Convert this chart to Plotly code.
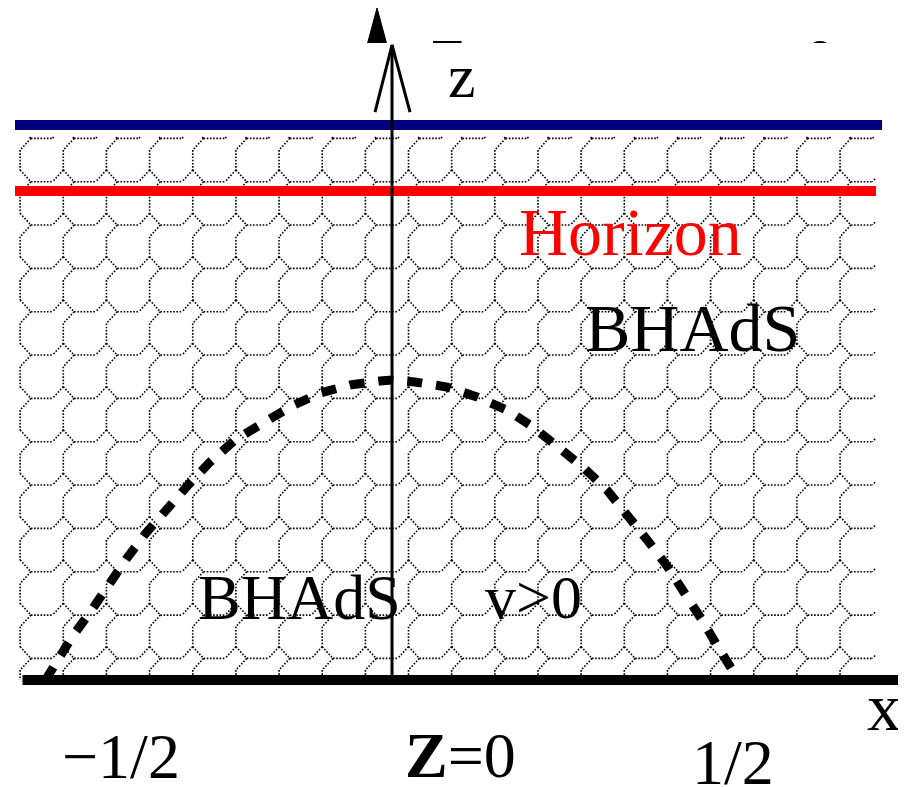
import plotly.graph_objects as go

# ---------------- data (in diagram units: x = -1/2 .. 1/2, z upward) ----------------
curve_x = [-0.5, -0.4863, -0.4618, -0.4343, -0.4113, -0.3824, -0.3550, -0.3247, -0.2929,
           -0.2626, -0.2266, -0.1861, -0.1443, -0.1039, -0.0606, -0.0173, 0.0,
           0.0332, 0.0794, 0.1227, 0.1659, 0.2035, 0.2395, 0.2771, 0.3102, 0.3405,
           0.3694, 0.3968, 0.4228, 0.4473, 0.4704, 0.4921, 0.5]
curve_z = [0.0, 0.0231, 0.0620, 0.0996, 0.1356, 0.1760, 0.2121, 0.2482, 0.2828,
           0.3146, 0.3463, 0.3709, 0.3954, 0.4141, 0.4257, 0.4315, 0.4329,
           0.4300, 0.4228, 0.4084, 0.3896, 0.3651, 0.3362, 0.3059, 0.2742, 0.2381,
           0.2006, 0.1645, 0.1270, 0.0866, 0.0476, 0.0115, 0.0]

boundary_z = 0.8009      # blue line
horizon_z = 0.7056       # red line (horizon)
tick_labels = ["\u22121/2", "<b>Z</b>=0", "1/2"]
tick_x = [-0.3911, 0.0981, 0.4921]
tick_z = [-0.1097, -0.1082, -0.1183]

region_labels = ["Horizon", "BHAdS", "BHAdS", "v>0"]
region_x = [0.3434, 0.4329, -0.1328, 0.2035]
region_z = [0.6465, 0.5079, 0.1198, 0.1198]
region_colors = ["#ff0000", "black", "black", "black"]
region_sizes = [68, 68, 64, 62]

top_text = "Z = const,  t > 0"

# ---------------- layout geometry ----------------
# the page body has an 8px margin; ranges are chosen so the diagram lands in place
XR = [-0.5541, 0.7532]
ZR = [-0.1659, 0.9697]
SERIF = "Liberation Serif"

# hexagon-like background texture parameters
W = 0.06227
H = 0.06253
A = W / 4
B = 0.01688
X0 = -0.5366
Z0 = 0.7359
CLIP = (-0.5368, 0.6970, 0.0, 0.7835)


def clip_seg(p, q, box):
    x1, y1 = p
    x2, y2 = q
    xmin, xmax, ymin, ymax = box
    dx, dy = x2 - x1, y2 - y1
    t0, t1 = 0.0, 1.0
    for pp, qq in ((-dx, x1 - xmin), (dx, xmax - x1), (-dy, y1 - ymin), (dy, ymax - y1)):
        if abs(pp) < 1e-12:
            if qq < 0:
                return None
        else:
            r = qq / pp
            if pp < 0:
                if r > t1:
                    return None
                t0 = max(t0, r)
            else:
                if r < t0:
                    return None
                t1 = min(t1, r)
    if t1 - t0 < 1e-9:
        return None
    return (x1 + t0 * dx, y1 + t0 * dy), (x1 + t1 * dx, y1 + t1 * dy)


hx, hz = [], []
for j in range(-1, 13):
    for k in range(-1, 21):
        px = X0 + k * W
        pz = Z0 - j * H
        P = (px, pz)
        Q = (px + A, pz - B)
        segs = [
            (P, (px - A, pz - B)),
            (P, Q),
            (Q, (px + 3 * A, pz - B)),
            (Q, (px, pz - 2 * B)),
            ((px, pz - 2 * B), (px, pz - H)),
        ]
        for s0, s1 in segs:
            c = clip_seg(s0, s1, CLIP)
            if c:
                hx += [c[0][0], c[1][0], None]
                hz += [c[0][1], c[1][1], None]

fig = go.Figure()

# texture
fig.add_trace(go.Scatter(x=hx, y=hz, mode="lines",
                         line=dict(color="black", width=1.6, dash="1.6px,1.6px")))

# partially hidden top text + filled arrow head of the cut-off figure above
fig.add_trace(go.Scatter(x=[0.3463], y=[0.8846], mode="text", text=[top_text],
                         textfont=dict(family=SERIF, size=64, color="black"),
                         textposition="middle center"))
fig.add_trace(go.Scatter(x=[-0.0216, -0.0014, -0.0418, -0.0216],
                         y=[0.9697, 0.8947, 0.8947, 0.9697],
                         mode="lines", fill="toself", fillcolor="black",
                         line=dict(color="black", width=1)))
# white cover (the picture is cut there)
fig.add_trace(go.Scatter(x=[-0.0534, 0.76, 0.76, -0.0534, -0.0534],
                         y=[0.9192, 0.9192, 0.8124, 0.8124, 0.9192],
                         mode="lines", fill="toself", fillcolor="white",
                         line=dict(color="white", width=0)))

# boundary and horizon
fig.add_trace(go.Scatter(x=[-0.5440, 0.7071], y=[boundary_z, boundary_z], mode="lines",
                         line=dict(color="#00007f", width=10)))
fig.add_trace(go.Scatter(x=[-0.5440, 0.6984], y=[horizon_z, horizon_z], mode="lines",
                         line=dict(color="#ff0000", width=10)))

# axes
fig.add_trace(go.Scatter(x=[-0.5332, 0.76], y=[0, 0], mode="lines",
                         line=dict(color="black", width=10)))
fig.add_trace(go.Scatter(x=[0, 0], y=[0, 0.9163], mode="lines",
                         line=dict(color="black", width=3)))
fig.add_trace(go.Scatter(x=[-0.0245, 0, 0.0260], y=[0.8196, 0.9163, 0.8196], mode="lines",
                         line=dict(color="black", width=3)))

# dashed curve
fig.add_trace(go.Scatter(x=curve_x, y=curve_z, mode="lines",
                         line=dict(color="black", width=9, dash="15px,14px")))

# labels
ann = []
for t, x, z, c, s in zip(region_labels, region_x, region_z, region_colors, region_sizes):
    ann.append(dict(x=x, y=z, text=t, showarrow=False, xanchor="center", yanchor="middle",
                    font=dict(family=SERIF, size=s, color=c)))
for t, x, z in zip(tick_labels, tick_x, tick_z):
    ann.append(dict(x=x, y=z, text=t, showarrow=False, xanchor="center", yanchor="middle",
                    font=dict(family=SERIF, size=64, color="black")))
ann.append(dict(x=0.1010, y=0.8716, text="z", showarrow=False, xanchor="center", yanchor="middle",
                font=dict(family=SERIF, size=62, color="black")))
ann.append(dict(x=0.7100, y=-0.0390, text="x", showarrow=False, xanchor="center", yanchor="middle",
                font=dict(family=SERIF, size=68, color="black")))

fig.update_layout(
    width=906, height=787,
    margin=dict(l=0, r=0, t=0, b=0, pad=0),
    paper_bgcolor="white", plot_bgcolor="white",
    showlegend=False, hovermode=False,
    annotations=ann,
    xaxis=dict(range=XR, visible=False, showgrid=False, zeroline=False, fixedrange=True),
    yaxis=dict(range=ZR, visible=False, showgrid=False, zeroline=False, fixedrange=True),
)

fig.write_html("out.html")
